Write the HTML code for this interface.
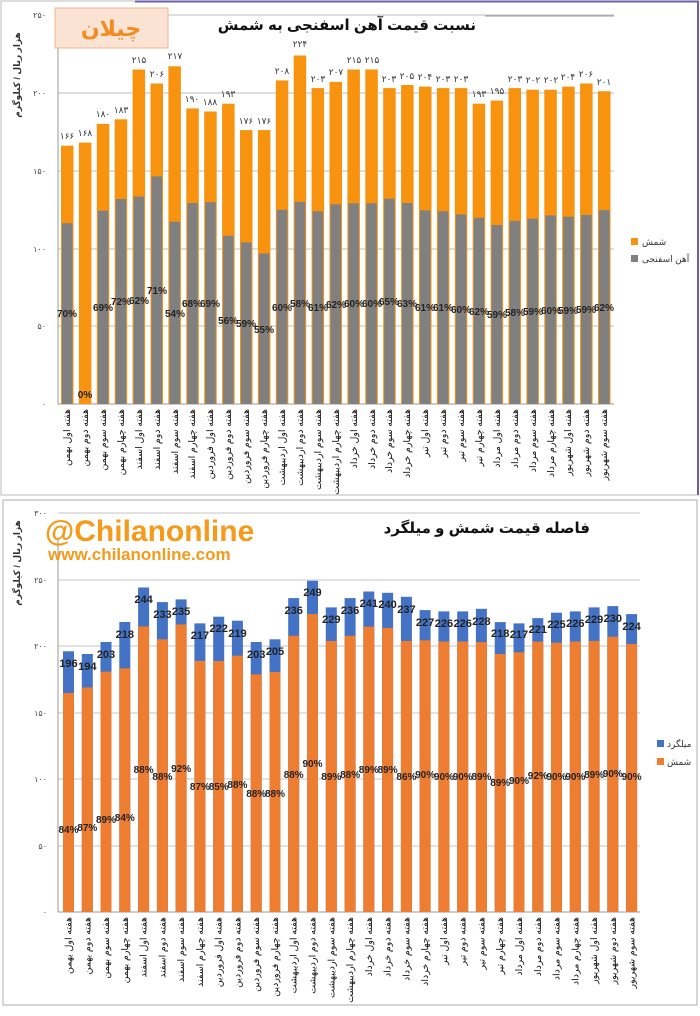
<!DOCTYPE html>
<html><head><meta charset="utf-8"><style>
html,body{margin:0;padding:0;background:#fff;}
svg{display:block;font-family:"Liberation Sans","DejaVu Sans",sans-serif;}
.v{font-size:9px;fill:#333;text-anchor:middle;}
.p{font-size:10px;font-weight:bold;fill:#222;text-anchor:middle;}
.x{font-size:9.5px;fill:#111;text-anchor:end;}
.t{font-size:8px;fill:#444;text-anchor:end;}
</style></head><body>
<svg width="700" height="1016" viewBox="0 0 700 1016" xmlns="http://www.w3.org/2000/svg">
<rect x="1" y="1" width="697" height="494" fill="#fff" stroke="#bbb" stroke-width="1"/>
<line x1="135" y1="1.5" x2="699" y2="1.5" stroke="#6a5fa8" stroke-width="2"/>
<line x1="698" y1="1" x2="698" y2="495" stroke="#6a5fa8" stroke-width="2"/>
<g stroke="#bdbdbd" stroke-width="1">
<line x1="58" y1="15" x2="614" y2="15"/><line x1="58" y1="93" x2="614" y2="93"/><line x1="58" y1="171" x2="614" y2="171"/><line x1="58" y1="249" x2="614" y2="249"/><line x1="58" y1="326" x2="614" y2="326"/>
</g>
<line x1="58" y1="45" x2="58" y2="404" stroke="#999"/>
<line x1="58" y1="404" x2="614" y2="404" stroke="#999"/>
<g class="t" style="font-size:8px">
<text x="46" y="18">۲۵۰</text><text x="46" y="96">۲۰۰</text><text x="46" y="174">۱۵۰</text><text x="46" y="252">۱۰۰</text><text x="46" y="329">۵۰</text><text x="46" y="407">۰</text>
</g>
<text transform="translate(20,75) rotate(-90)" style="font-size:9px;font-weight:bold;fill:#333" text-anchor="middle">هزار ریال / کیلوگرم</text>
<rect x="55" y="8" width="113" height="40" fill="#fbe3d3" stroke="#f0b48c"/>
<text x="111" y="36" text-anchor="middle" style="font-size:22px;font-weight:bold;fill:#f58a1f">چیلان</text>
<line x1="485" y1="16" x2="614" y2="16" stroke="#999"/>
<text x="476" y="30" text-anchor="end" style="font-size:15px;font-weight:bold;fill:#111">نسبت قیمت آهن اسفنجی به شمش</text>
<g fill="#f7930f">
<rect x="61" y="145.7" width="12.5" height="258.3"/><rect x="78.9" y="142.6" width="12.5" height="261.4"/><rect x="96.8" y="123.9" width="12.5" height="280.1"/><rect x="114.7" y="119.3" width="12.5" height="284.7"/><rect x="132.6" y="69.5" width="12.5" height="334.5"/><rect x="150.5" y="83.5" width="12.5" height="320.5"/><rect x="168.4" y="66.3" width="12.5" height="337.7"/><rect x="186.3" y="108.4" width="12.5" height="295.6"/><rect x="204.2" y="111.5" width="12.5" height="292.5"/><rect x="222.1" y="103.7" width="12.5" height="300.3"/><rect x="240" y="130.1" width="12.5" height="273.9"/><rect x="257.9" y="130.1" width="12.5" height="273.9"/><rect x="275.8" y="80.4" width="12.5" height="323.6"/><rect x="293.7" y="55.5" width="12.5" height="348.5"/><rect x="311.6" y="88.1" width="12.5" height="315.9"/><rect x="329.5" y="81.9" width="12.5" height="322.1"/><rect x="347.4" y="69.5" width="12.5" height="334.5"/><rect x="365.3" y="69.5" width="12.5" height="334.5"/><rect x="383.2" y="88.1" width="12.5" height="315.9"/><rect x="401.1" y="85" width="12.5" height="319"/><rect x="419" y="86.6" width="12.5" height="317.4"/><rect x="436.9" y="88.1" width="12.5" height="315.9"/><rect x="454.8" y="88.1" width="12.5" height="315.9"/><rect x="472.7" y="103.7" width="12.5" height="300.3"/><rect x="490.6" y="100.6" width="12.5" height="303.4"/><rect x="508.5" y="88.1" width="12.5" height="315.9"/><rect x="526.4" y="89.7" width="12.5" height="314.3"/><rect x="544.3" y="89.7" width="12.5" height="314.3"/><rect x="562.2" y="86.6" width="12.5" height="317.4"/><rect x="580.1" y="83.5" width="12.5" height="320.5"/><rect x="598" y="91.2" width="12.5" height="312.8"/>
</g>
<g fill="#808080">
<rect x="62" y="223.2" width="10.5" height="180.8"/><rect x="97.8" y="210.7" width="10.5" height="193.3"/><rect x="115.7" y="199" width="10.5" height="205"/><rect x="133.6" y="196.6" width="10.5" height="207.4"/><rect x="151.5" y="176.4" width="10.5" height="227.6"/><rect x="169.4" y="221.7" width="10.5" height="182.3"/><rect x="187.3" y="203" width="10.5" height="201"/><rect x="205.2" y="202.2" width="10.5" height="201.8"/><rect x="223.1" y="235.8" width="10.5" height="168.2"/><rect x="241" y="242.4" width="10.5" height="161.6"/><rect x="258.9" y="253.4" width="10.5" height="150.6"/><rect x="276.8" y="209.8" width="10.5" height="194.2"/><rect x="294.7" y="201.9" width="10.5" height="202.1"/><rect x="312.6" y="211.3" width="10.5" height="192.7"/><rect x="330.5" y="204.3" width="10.5" height="199.7"/><rect x="348.4" y="203.3" width="10.5" height="200.7"/><rect x="366.3" y="203.3" width="10.5" height="200.7"/><rect x="384.2" y="198.7" width="10.5" height="205.3"/><rect x="402.1" y="203" width="10.5" height="201"/><rect x="420" y="210.4" width="10.5" height="193.6"/><rect x="437.9" y="211.3" width="10.5" height="192.7"/><rect x="455.8" y="214.5" width="10.5" height="189.5"/><rect x="473.7" y="217.8" width="10.5" height="186.2"/><rect x="491.6" y="225" width="10.5" height="179"/><rect x="509.5" y="220.8" width="10.5" height="183.2"/><rect x="527.4" y="218.6" width="10.5" height="185.4"/><rect x="545.3" y="215.4" width="10.5" height="188.6"/><rect x="563.2" y="216.7" width="10.5" height="187.3"/><rect x="581.1" y="214.9" width="10.5" height="189.1"/><rect x="599" y="210.1" width="10.5" height="193.9"/>
</g>
<g class="v">
<text x="67" y="139">۱۶۶</text><text x="85" y="136">۱۶۸</text><text x="103" y="117">۱۸۰</text><text x="121" y="113">۱۸۳</text><text x="139" y="63">۲۱۵</text><text x="157" y="77">۲۰۶</text><text x="175" y="59">۲۱۷</text><text x="192" y="102">۱۹۰</text><text x="210" y="105">۱۸۸</text><text x="228" y="97">۱۹۳</text><text x="246" y="124">۱۷۶</text><text x="264" y="124">۱۷۶</text><text x="282" y="74">۲۰۸</text><text x="300" y="47">۲۲۴</text><text x="318" y="82">۲۰۳</text><text x="336" y="75">۲۰۷</text><text x="354" y="63">۲۱۵</text><text x="372" y="63">۲۱۵</text><text x="389" y="82">۲۰۳</text><text x="407" y="79">۲۰۵</text><text x="425" y="80">۲۰۴</text><text x="443" y="82">۲۰۳</text><text x="461" y="82">۲۰۳</text><text x="479" y="97">۱۹۳</text><text x="497" y="94">۱۹۵</text><text x="515" y="82">۲۰۳</text><text x="533" y="83">۲۰۲</text><text x="551" y="83">۲۰۲</text><text x="568" y="80">۲۰۴</text><text x="586" y="77">۲۰۶</text><text x="604" y="85">۲۰۱</text>
</g>
<g class="p">
<text x="67" y="317">70%</text><text x="85" y="398">0%</text><text x="103" y="311">69%</text><text x="121" y="305">72%</text><text x="139" y="304">62%</text><text x="157" y="294">71%</text><text x="175" y="317">54%</text><text x="192" y="307">68%</text><text x="210" y="307">69%</text><text x="228" y="324">56%</text><text x="246" y="327">59%</text><text x="264" y="333">55%</text><text x="282" y="311">60%</text><text x="300" y="307">58%</text><text x="318" y="311">61%</text><text x="336" y="308">62%</text><text x="354" y="307">60%</text><text x="372" y="307">60%</text><text x="389" y="305">65%</text><text x="407" y="307">63%</text><text x="425" y="311">61%</text><text x="443" y="311">61%</text><text x="461" y="313">60%</text><text x="479" y="315">62%</text><text x="497" y="318">59%</text><text x="515" y="316">58%</text><text x="533" y="315">59%</text><text x="551" y="314">60%</text><text x="568" y="314">59%</text><text x="586" y="313">59%</text><text x="604" y="311">62%</text>
</g>
<g class="x">
<text transform="translate(70,409) rotate(-90)">هفته اول بهمن</text><text transform="translate(88,409) rotate(-90)">هفته دوم بهمن</text><text transform="translate(106,409) rotate(-90)">هفته سوم بهمن</text><text transform="translate(124,409) rotate(-90)">هفته چهارم بهمن</text><text transform="translate(142,409) rotate(-90)">هفته اول اسفند</text><text transform="translate(160,409) rotate(-90)">هفته دوم اسفند</text><text transform="translate(178,409) rotate(-90)">هفته سوم اسفند</text><text transform="translate(195,409) rotate(-90)">هفته چهارم اسفند</text><text transform="translate(213,409) rotate(-90)">هفته اول فروردین</text><text transform="translate(231,409) rotate(-90)">هفته دوم فروردین</text><text transform="translate(249,409) rotate(-90)">هفته سوم فروردین</text><text transform="translate(267,409) rotate(-90)">هفته چهارم فروردین</text><text transform="translate(285,409) rotate(-90)">هفته اول اردیبهشت</text><text transform="translate(303,409) rotate(-90)">هفته دوم اردیبهشت</text><text transform="translate(321,409) rotate(-90)">هفته سوم اردیبهشت</text><text transform="translate(339,409) rotate(-90)">هفته چهارم اردیبهشت</text><text transform="translate(357,409) rotate(-90)">هفته اول خرداد</text><text transform="translate(375,409) rotate(-90)">هفته دوم خرداد</text><text transform="translate(392,409) rotate(-90)">هفته سوم خرداد</text><text transform="translate(410,409) rotate(-90)">هفته چهارم خرداد</text><text transform="translate(428,409) rotate(-90)">هفته اول تیر</text><text transform="translate(446,409) rotate(-90)">هفته دوم تیر</text><text transform="translate(464,409) rotate(-90)">هفته سوم تیر</text><text transform="translate(482,409) rotate(-90)">هفته چهارم تیر</text><text transform="translate(500,409) rotate(-90)">هفته اول مرداد</text><text transform="translate(518,409) rotate(-90)">هفته دوم مرداد</text><text transform="translate(536,409) rotate(-90)">هفته سوم مرداد</text><text transform="translate(554,409) rotate(-90)">هفته چهارم مرداد</text><text transform="translate(571,409) rotate(-90)">هفته اول شهریور</text><text transform="translate(589,409) rotate(-90)">هفته دوم شهریور</text><text transform="translate(607,409) rotate(-90)">هفته سوم شهریور</text>
</g>
<rect x="631" y="238" width="7" height="7" fill="#f7930f"/><text x="642" y="245" style="font-size:9px;fill:#333">شمش</text>
<rect x="631" y="255" width="7" height="7" fill="#808080"/><text x="642" y="262" style="font-size:9px;fill:#333">آهن اسفنجی</text>

<rect x="3" y="500" width="694" height="505" fill="#fff" stroke="#bbb" stroke-width="1.2"/>
<g stroke="#c4c4c4" stroke-width="1">
<line x1="58" y1="513" x2="640" y2="513"/><line x1="58" y1="580" x2="640" y2="580"/><line x1="58" y1="646" x2="640" y2="646"/><line x1="58" y1="713" x2="640" y2="713"/><line x1="58" y1="779" x2="640" y2="779"/><line x1="58" y1="846" x2="640" y2="846"/>
</g>
<line x1="58" y1="540" x2="58" y2="912" stroke="#999"/>
<line x1="58" y1="912" x2="640" y2="912" stroke="#999"/>
<g class="t">
<text x="47" y="516">۳۰۰</text><text x="47" y="583">۲۵۰</text><text x="47" y="649">۲۰۰</text><text x="47" y="716">۱۵۰</text><text x="47" y="782">۱۰۰</text><text x="47" y="849">۵۰</text><text x="47" y="915">۰</text>
</g>
<text transform="translate(20,563) rotate(-90)" style="font-size:9px;font-weight:bold;fill:#333" text-anchor="middle">هزار ریال / کیلوگرم</text>
<text x="45" y="541" style="font-size:30px;font-weight:bold;fill:#f59a1a">@Chilanonline</text>
<text x="48" y="560" style="font-size:17px;font-weight:bold;fill:#f59a1a">www.chilanonline.com</text>
<text x="590" y="533" text-anchor="end" style="font-size:15px;font-weight:bold;fill:#111">فاصله  قیمت شمش و میلگرد</text>
<g fill="#4472c4">
<rect x="63" y="651.3" width="11" height="260.7"/><rect x="81.8" y="654" width="11" height="258"/><rect x="100.5" y="642" width="11" height="270"/><rect x="119.3" y="622" width="11" height="290"/><rect x="138.1" y="587.5" width="11" height="324.5"/><rect x="156.9" y="602.1" width="11" height="309.9"/><rect x="175.6" y="599.4" width="11" height="312.6"/><rect x="194.4" y="623.4" width="11" height="288.6"/><rect x="213.2" y="616.7" width="11" height="295.3"/><rect x="231.9" y="620.7" width="11" height="291.3"/><rect x="250.7" y="642" width="11" height="270"/><rect x="269.5" y="639.3" width="11" height="272.7"/><rect x="288.2" y="598.1" width="11" height="313.9"/><rect x="307" y="580.8" width="11" height="331.2"/><rect x="325.8" y="607.4" width="11" height="304.6"/><rect x="344.6" y="598.1" width="11" height="313.9"/><rect x="363.3" y="591.5" width="11" height="320.5"/><rect x="382.1" y="592.8" width="11" height="319.2"/><rect x="400.9" y="596.8" width="11" height="315.2"/><rect x="419.6" y="610.1" width="11" height="301.9"/><rect x="438.4" y="611.4" width="11" height="300.6"/><rect x="457.2" y="611.4" width="11" height="300.6"/><rect x="475.9" y="608.8" width="11" height="303.2"/><rect x="494.7" y="622.1" width="11" height="289.9"/><rect x="513.5" y="623.4" width="11" height="288.6"/><rect x="532.3" y="618.1" width="11" height="293.9"/><rect x="551" y="612.7" width="11" height="299.3"/><rect x="569.8" y="611.4" width="11" height="300.6"/><rect x="588.6" y="607.4" width="11" height="304.6"/><rect x="607.3" y="606.1" width="11" height="305.9"/><rect x="626.1" y="614.1" width="11" height="297.9"/>
</g>
<g fill="#ed7d31">
<rect x="63" y="693" width="11" height="219"/><rect x="81.8" y="687.5" width="11" height="224.5"/><rect x="100.5" y="671.7" width="11" height="240.3"/><rect x="119.3" y="668.4" width="11" height="243.6"/><rect x="138.1" y="626.4" width="11" height="285.6"/><rect x="156.9" y="639.3" width="11" height="272.7"/><rect x="175.6" y="624.4" width="11" height="287.6"/><rect x="194.4" y="660.9" width="11" height="251.1"/><rect x="213.2" y="661" width="11" height="251"/><rect x="231.9" y="655.7" width="11" height="256.3"/><rect x="250.7" y="674.4" width="11" height="237.6"/><rect x="269.5" y="672" width="11" height="240"/><rect x="288.2" y="635.8" width="11" height="276.2"/><rect x="307" y="614" width="11" height="298"/><rect x="325.8" y="640.9" width="11" height="271.1"/><rect x="344.6" y="635.8" width="11" height="276.2"/><rect x="363.3" y="626.7" width="11" height="285.3"/><rect x="382.1" y="627.9" width="11" height="284.1"/><rect x="400.9" y="640.9" width="11" height="271.1"/><rect x="419.6" y="640.3" width="11" height="271.7"/><rect x="438.4" y="641.5" width="11" height="270.5"/><rect x="457.2" y="641.5" width="11" height="270.5"/><rect x="475.9" y="642.1" width="11" height="269.9"/><rect x="494.7" y="654" width="11" height="258"/><rect x="513.5" y="652.3" width="11" height="259.7"/><rect x="532.3" y="641.6" width="11" height="270.4"/><rect x="551" y="642.7" width="11" height="269.3"/><rect x="569.8" y="641.5" width="11" height="270.5"/><rect x="588.6" y="640.9" width="11" height="271.1"/><rect x="607.3" y="636.7" width="11" height="275.3"/><rect x="626.1" y="643.9" width="11" height="268.1"/>
</g>
<g class="p" style="font-size:11px">
<text x="68.5" y="667">196</text><text x="87.3" y="670">194</text><text x="106" y="658">203</text><text x="124.8" y="638">218</text><text x="143.6" y="603">244</text><text x="162.4" y="618">233</text><text x="181.1" y="615">235</text><text x="199.9" y="639">217</text><text x="218.7" y="632">222</text><text x="237.4" y="637">219</text><text x="256.2" y="658">203</text><text x="275" y="655">205</text><text x="293.7" y="614">236</text><text x="312.5" y="596">249</text><text x="331.3" y="623">229</text><text x="350.1" y="614">236</text><text x="368.8" y="607">241</text><text x="387.6" y="608">240</text><text x="406.4" y="613">237</text><text x="425.1" y="626">227</text><text x="443.9" y="627">226</text><text x="462.7" y="627">226</text><text x="481.4" y="625">228</text><text x="500.2" y="637">218</text><text x="519" y="638">217</text><text x="537.8" y="633">221</text><text x="556.5" y="628">225</text><text x="575.3" y="627">226</text><text x="594.1" y="623">229</text><text x="612.8" y="622">230</text><text x="631.6" y="630">224</text>
</g>
<g class="p">
<text x="68.5" y="833">84%</text><text x="87.3" y="831">87%</text><text x="106" y="823">89%</text><text x="124.8" y="821">84%</text><text x="143.6" y="773">88%</text><text x="162.4" y="780">88%</text><text x="181.1" y="772">92%</text><text x="199.9" y="790">87%</text><text x="218.7" y="790">85%</text><text x="237.4" y="788">88%</text><text x="256.2" y="797">88%</text><text x="275" y="797">88%</text><text x="293.7" y="778">88%</text><text x="312.5" y="767">90%</text><text x="331.3" y="780">89%</text><text x="350.1" y="778">88%</text><text x="368.8" y="773">89%</text><text x="387.6" y="773">89%</text><text x="406.4" y="780">86%</text><text x="425.1" y="778">90%</text><text x="443.9" y="780">90%</text><text x="462.7" y="780">90%</text><text x="481.4" y="780">89%</text><text x="500.2" y="786">89%</text><text x="519" y="784">90%</text><text x="537.8" y="779">92%</text><text x="556.5" y="780">90%</text><text x="575.3" y="780">90%</text><text x="594.1" y="778">89%</text><text x="612.8" y="777">90%</text><text x="631.6" y="780">90%</text>
</g>
<g class="x">
<text transform="translate(71.5,917) rotate(-90)">هفته اول بهمن</text><text transform="translate(90.3,917) rotate(-90)">هفته دوم بهمن</text><text transform="translate(109,917) rotate(-90)">هفته سوم بهمن</text><text transform="translate(127.8,917) rotate(-90)">هفته چهارم بهمن</text><text transform="translate(146.6,917) rotate(-90)">هفته اول اسفند</text><text transform="translate(165.4,917) rotate(-90)">هفته دوم اسفند</text><text transform="translate(184.1,917) rotate(-90)">هفته سوم اسفند</text><text transform="translate(202.9,917) rotate(-90)">هفته چهارم اسفند</text><text transform="translate(221.7,917) rotate(-90)">هفته اول فروردین</text><text transform="translate(240.4,917) rotate(-90)">هفته دوم فروردین</text><text transform="translate(259.2,917) rotate(-90)">هفته سوم فروردین</text><text transform="translate(278,917) rotate(-90)">هفته چهارم فروردین</text><text transform="translate(296.7,917) rotate(-90)">هفته اول اردیبهشت</text><text transform="translate(315.5,917) rotate(-90)">هفته دوم اردیبهشت</text><text transform="translate(334.3,917) rotate(-90)">هفته سوم اردیبهشت</text><text transform="translate(353.1,917) rotate(-90)">هفته چهارم اردیبهشت</text><text transform="translate(371.8,917) rotate(-90)">هفته اول خرداد</text><text transform="translate(390.6,917) rotate(-90)">هفته دوم خرداد</text><text transform="translate(409.4,917) rotate(-90)">هفته سوم خرداد</text><text transform="translate(428.1,917) rotate(-90)">هفته چهارم خرداد</text><text transform="translate(446.9,917) rotate(-90)">هفته اول تیر</text><text transform="translate(465.7,917) rotate(-90)">هفته دوم تیر</text><text transform="translate(484.4,917) rotate(-90)">هفته سوم تیر</text><text transform="translate(503.2,917) rotate(-90)">هفته چهارم تیر</text><text transform="translate(522,917) rotate(-90)">هفته اول مرداد</text><text transform="translate(540.8,917) rotate(-90)">هفته دوم مرداد</text><text transform="translate(559.5,917) rotate(-90)">هفته سوم مرداد</text><text transform="translate(578.3,917) rotate(-90)">هفته چهارم مرداد</text><text transform="translate(597.1,917) rotate(-90)">هفته اول شهریور</text><text transform="translate(615.8,917) rotate(-90)">هفته دوم شهریور</text><text transform="translate(634.6,917) rotate(-90)">هفته سوم شهریور</text>
</g>
<rect x="657" y="740" width="7" height="7" fill="#4472c4"/><text x="667" y="747" style="font-size:9px;fill:#333">میلگرد</text>
<rect x="657" y="758" width="7" height="7" fill="#ed7d31"/><text x="667" y="765" style="font-size:9px;fill:#333">شمش</text>
</svg>
</body></html>
